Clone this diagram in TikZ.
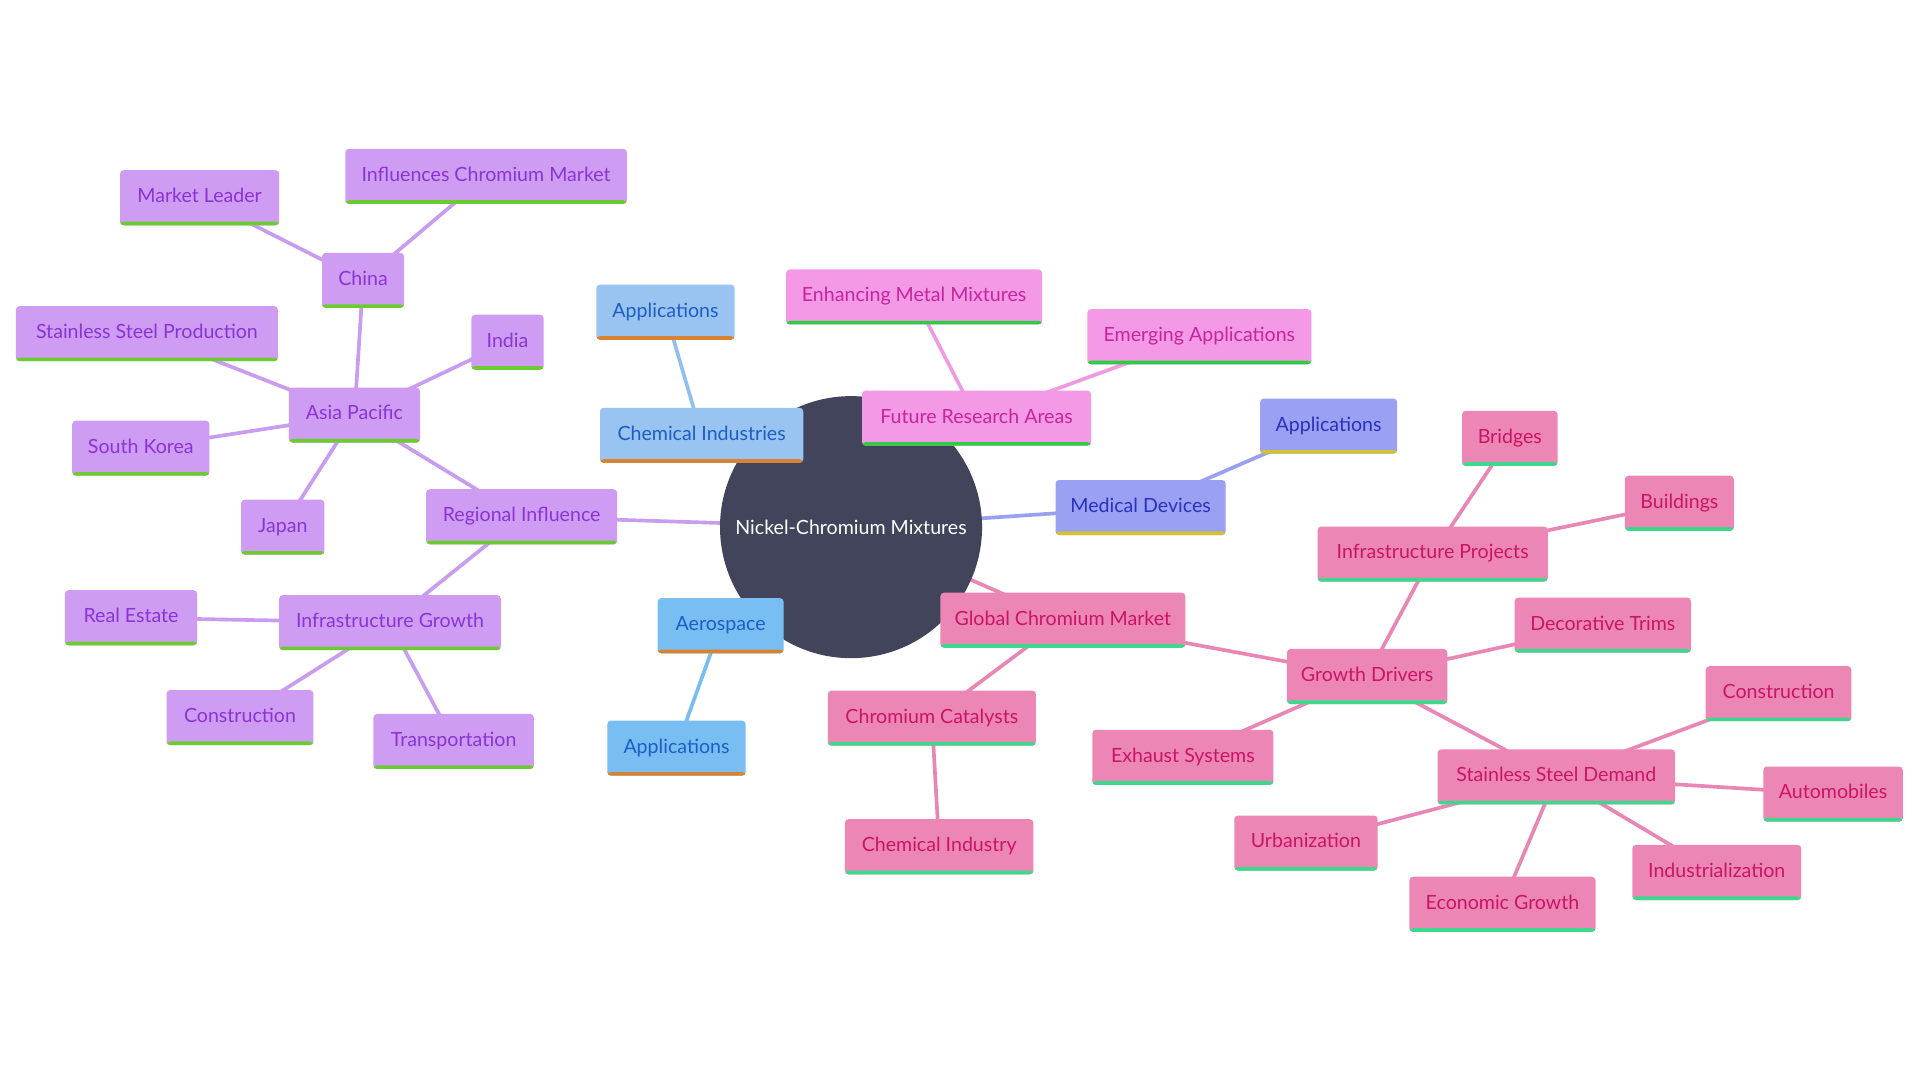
\documentclass[tikz,border=0pt]{standalone}
\usepackage{fontspec}
\setmainfont{Lato}
\usetikzlibrary{backgrounds}
\definecolor{rootF}{HTML}{41445A}
\definecolor{purF}{HTML}{CE9CF2}
\definecolor{purT}{HTML}{8A34D6}
\definecolor{purB}{HTML}{6CCB2E}
\definecolor{purE}{HTML}{C89DEF}
\definecolor{chemF}{HTML}{99C3F0}
\definecolor{aeroF}{HTML}{78BEF2}
\definecolor{bluT}{HTML}{1C5EC6}
\definecolor{bluB}{HTML}{D98330}
\definecolor{chemE}{HTML}{92C0EE}
\definecolor{aeroE}{HTML}{78BEF0}
\definecolor{magF}{HTML}{F399E5}
\definecolor{magT}{HTML}{C6259E}
\definecolor{magB}{HTML}{2ECC44}
\definecolor{magE}{HTML}{F09BE0}
\definecolor{lavF}{HTML}{9AA0F2}
\definecolor{lavT}{HTML}{2A30C0}
\definecolor{lavB}{HTML}{D4C330}
\definecolor{lavE}{HTML}{9AA0F0}
\definecolor{pnkF}{HTML}{EC87B5}
\definecolor{pnkT}{HTML}{CC1465}
\definecolor{pnkB}{HTML}{3CD98C}
\definecolor{pnkE}{HTML}{E887B5}
\tikzset{
  bar/.style={path picture={\fill[#1] ([yshift=3pt]path picture bounding box.south west) rectangle (path picture bounding box.south east);}},
  mm/.style={rounded corners=3pt, minimum height=45pt, inner sep=0pt, text height=12pt, text depth=4pt, font=\fontsize{16}{19}\selectfont},
  pur/.style={mm, fill=purF, text=purT, bar=purB},
  chem/.style={mm, fill=chemF, text=bluT, bar=bluB},
  aero/.style={mm, fill=aeroF, text=bluT, bar=bluB},
  mag/.style={mm, fill=magF, text=magT, bar=magB},
  lav/.style={mm, fill=lavF, text=lavT, bar=lavB},
  pnk/.style={mm, fill=pnkF, text=pnkT, bar=pnkB},
  ln/.style={draw=#1, line width=3pt},
}
\begin{document}
\begin{tikzpicture}[x=1pt,y=-1pt]
\path[use as bounding box] (0,0) rectangle (1568,882);
% root
\node[circle, fill=rootF, minimum size=214pt, inner sep=0pt, text=white, font=\fontsize{16}{19}\selectfont] (root) at (695,430.5) {Nickel-Chromium Mixtures};
% purple branch
\node[pur, minimum width=130pt] (ml) at (163,161.5) {Market Leader};
\node[pur, minimum width=230pt] (icm) at (397,144) {Influences Chromium Market};
\node[pur, minimum width=67pt] (china) at (296.5,229) {China};
\node[pur, minimum width=214pt] (ssp) at (120,272.5) {Stainless Steel Production};
\node[pur, minimum width=59pt] (india) at (414.5,279.5) {India};
\node[pur, minimum width=107pt] (ap) at (289.5,339) {Asia Pacific};
\node[pur, minimum width=112pt] (sk) at (115,366) {South Korea};
\node[pur, minimum width=68pt] (japan) at (231,430.5) {Japan};
\node[pur, minimum width=156pt] (ri) at (426,422) {Regional Influence};
\node[pur, minimum width=181pt] (ig) at (318.5,508.5) {Infrastructure Growth};
\node[pur, minimum width=108pt] (re) at (107,504.5) {Real Estate};
\node[pur, minimum width=120pt] (conp) at (196,586) {Construction};
\node[pur, minimum width=131pt] (trans) at (370.5,605.5) {Transportation};
% blue branches
\node[chem, minimum width=113pt] (appc) at (543.5,255) {Applications};
\node[chem, minimum width=166pt] (chemind) at (573,355.5) {Chemical Industries};
\node[aero, minimum width=103pt] (aero) at (588.5,511) {Aerospace};
\node[aero, minimum width=113pt] (appa) at (552.5,611) {Applications};
% magenta branch
\node[mag, minimum width=209pt] (emm) at (746.5,242.5) {Enhancing Metal Mixtures};
\node[mag, minimum width=183pt] (ea) at (979.5,275) {Emerging Applications};
\node[mag, minimum width=187pt] (fra) at (797.5,341.5) {Future Research Areas};
% lavender branch
\node[lav, minimum width=112pt] (appm) at (1085,348) {Applications};
\node[lav, minimum width=139pt] (md) at (931.5,414.5) {Medical Devices};
% pink branch
\node[pnk, minimum width=200pt] (gcm) at (868,506.5) {Global Chromium Market};
\node[pnk, minimum width=170pt] (cc) at (761,586.5) {Chromium Catalysts};
\node[pnk, minimum width=154pt] (ci) at (767,691.5) {Chemical Industry};
\node[pnk, minimum width=131pt] (gd) at (1116.5,552.5) {Growth Drivers};
\node[pnk, minimum width=188pt] (ip) at (1170,452.5) {Infrastructure Projects};
\node[pnk, minimum width=78pt] (bridges) at (1233,358) {Bridges};
\node[pnk, minimum width=89pt] (buildings) at (1371.5,411) {Buildings};
\node[pnk, minimum width=144pt] (dt) at (1309,510.5) {Decorative Trims};
\node[pnk, minimum width=148pt] (es) at (966,618.5) {Exhaust Systems};
\node[pnk, minimum width=194pt] (ssd) at (1271,634.5) {Stainless Steel Demand};
\node[pnk, minimum width=119pt] (conk) at (1452.5,566.5) {Construction};
\node[pnk, minimum width=114pt] (auto) at (1497,648.5) {Automobiles};
\node[pnk, minimum width=138pt] (indus) at (1402,712.5) {Industrialization};
\node[pnk, minimum width=152pt] (eg) at (1227,738.5) {Economic Growth};
\node[pnk, minimum width=117pt] (urb) at (1066.5,688.5) {Urbanization};
% connectors
\begin{pgfonlayer}{background}
\fill[white] (0,0) rectangle (1568,882);
\draw[ln=purE] (root.center) -- (ri.center);
\draw[ln=purE] (ri.center) -- (ap.center);
\draw[ln=purE] (ri.center) -- (ig.center);
\draw[ln=purE] (ap.center) -- (china.center);
\draw[ln=purE] (ap.center) -- (india.center);
\draw[ln=purE] (ap.center) -- (ssp.center);
\draw[ln=purE] (ap.center) -- (sk.center);
\draw[ln=purE] (ap.center) -- (japan.center);
\draw[ln=purE] (china.center) -- (ml.center);
\draw[ln=purE] (china.center) -- (icm.center);
\draw[ln=purE] (ig.center) -- (re.center);
\draw[ln=purE] (ig.center) -- (conp.center);
\draw[ln=purE] (ig.center) -- (trans.center);
\draw[ln=chemE] (root.center) -- (chemind.center);
\draw[ln=chemE] (chemind.center) -- (appc.center);
\draw[ln=aeroE] (root.center) -- (aero.center);
\draw[ln=aeroE] (aero.center) -- (appa.center);
\draw[ln=magE] (root.center) -- (fra.center);
\draw[ln=magE] (fra.center) -- (emm.center);
\draw[ln=magE] (fra.center) -- (ea.center);
\draw[ln=lavE] (root.center) -- (md.center);
\draw[ln=lavE] (md.center) -- (appm.center);
\draw[ln=pnkE] (root.center) -- (gcm.center);
\draw[ln=pnkE] (gcm.center) -- (cc.center);
\draw[ln=pnkE] (cc.center) -- (ci.center);
\draw[ln=pnkE] (gcm.center) -- (gd.center);
\draw[ln=pnkE] (gd.center) -- (ip.center);
\draw[ln=pnkE] (gd.center) -- (dt.center);
\draw[ln=pnkE] (gd.center) -- (es.center);
\draw[ln=pnkE] (gd.center) -- (ssd.center);
\draw[ln=pnkE] (ip.center) -- (bridges.center);
\draw[ln=pnkE] (ip.center) -- (buildings.center);
\draw[ln=pnkE] (ssd.center) -- (conk.center);
\draw[ln=pnkE] (ssd.center) -- (auto.center);
\draw[ln=pnkE] (ssd.center) -- (indus.center);
\draw[ln=pnkE] (ssd.center) -- (eg.center);
\draw[ln=pnkE] (ssd.center) -- (urb.center);
\end{pgfonlayer}
\end{tikzpicture}
\end{document}
